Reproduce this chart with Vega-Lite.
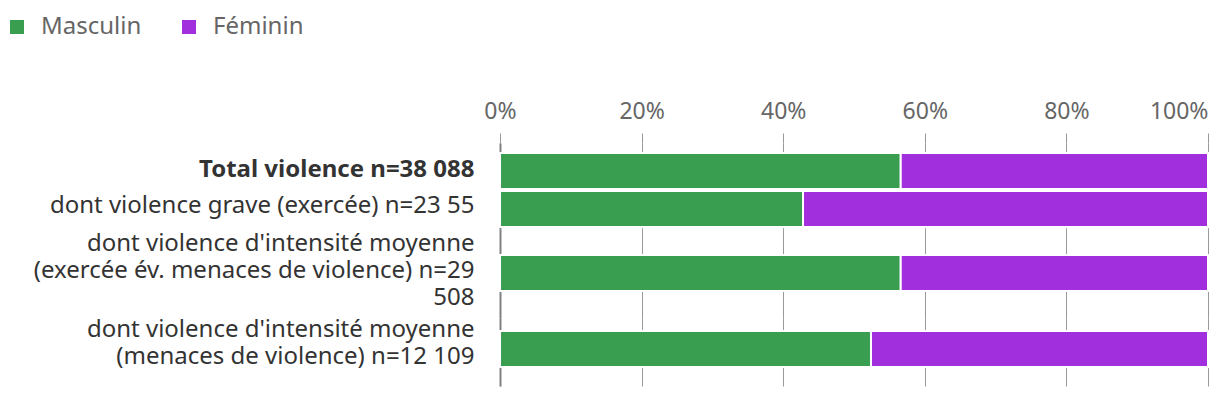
{
  "$schema": "https://vega.github.io/schema/vega-lite/v6.json",
  "autosize": {"type": "pad"},
  "padding": {"left": 5, "top": 15, "right": 12, "bottom": 12},
  "background": "white",
  "bounds": "flush",
  "spacing": 0,
  "config": {
    "view": {"stroke": null},
    "font": "Noto Sans",
    "concat": {"spacing": 0},
    "axisY": {
      "title": null,
      "ticks": false,
      "domain": true,
      "domainColor": "#808080",
      "domainWidth": 2,
      "zindex": 1,
      "labelFont": "Noto Sans",
      "labelFontSize": 24,
      "labelColor": "#333333",
      "labelPadding": 26,
      "labelLimit": 0,
      "labelLineHeight": 27,
      "labelExpr": "split(datum.label, '|')"
    },
    "axisX": {
      "title": null,
      "domain": false,
      "gridColor": "#999999",
      "tickColor": "#999999"
    },
    "bar": {"stroke": "white", "strokeWidth": 2}
  },
  "data": {
    "values": [
      {"categorie": "Total violence n=38 088", "sexe": "Masculin", "part": 56.6},
      {"categorie": "Total violence n=38 088", "sexe": "Féminin", "part": 43.4},
      {"categorie": "dont violence grave (exercée) n=23 55", "sexe": "Masculin", "part": 42.8},
      {"categorie": "dont violence grave (exercée) n=23 55", "sexe": "Féminin", "part": 57.2},
      {"categorie": "dont violence d'intensité moyenne|(exercée év. menaces de violence) n=29|508", "sexe": "Masculin", "part": 56.6},
      {"categorie": "dont violence d'intensité moyenne|(exercée év. menaces de violence) n=29|508", "sexe": "Féminin", "part": 43.4},
      {"categorie": "dont violence d'intensité moyenne|(menaces de violence) n=12 109", "sexe": "Masculin", "part": 52.4},
      {"categorie": "dont violence d'intensité moyenne|(menaces de violence) n=12 109", "sexe": "Féminin", "part": 47.6}
    ]
  },
  "transform": [
    {"calculate": "indexof(['Masculin','Féminin'], datum.sexe)", "as": "ordre"}
  ],
  "resolve": {"scale": {"y": "independent", "x": "independent"}, "axis": {"x": "independent", "y": "independent"}},
  "vconcat": [
    {
      "width": 708,
      "height": 47,
      "transform": [{"filter": "datum.categorie == 'Total violence n=38 088'"}],
      "mark": "bar",
      "encoding": {
        "y": {"field": "categorie", "type": "nominal", "scale": {"paddingInner": 0, "paddingOuter": 0.153, "align": 0.91},
          "axis": {"labelFontWeight": "bold", "labelOffset": -1}},
        "x": {"field": "part", "type": "quantitative", "stack": "zero", "scale": {"domain": [0, 100], "nice": false},
          "axis": {
            "orient": "top",
            "values": [0, 20, 40, 60, 80, 100],
            "ticks": true,
            "tickSize": 10,
            "grid": true,
            "labelExpr": "datum.value + '%'",
            "labelFont": "Noto Sans",
            "labelFontSize": 23,
            "labelColor": "#666666",
            "labelBaseline": "alphabetic",
            "labelPadding": 15,
            "labelFlush": false,
            "labelAlign": {"condition": {"test": "datum.value == 100", "value": "right"}, "value": "center"}
          }},
        "color": {"field": "sexe", "type": "nominal",
          "scale": {"domain": ["Masculin", "Féminin"], "range": ["#3a9e51", "#a22fdd"]},
          "legend": {
            "title": null, "orient": "none", "direction": "horizontal",
            "legendX": -495, "legendY": -128, "padding": 0,
            "symbolType": "square", "symbolSize": 256, "symbolStrokeWidth": 0,
            "labelFont": "Noto Sans", "labelFontSize": 24, "labelColor": "#666666",
            "labelOffset": 12, "columnPadding": 35
          }},
        "order": {"field": "ordre", "type": "quantitative"}
      }
    },
    {
      "width": 708,
      "height": 39,
      "transform": [{"filter": "datum.categorie == 'dont violence grave (exercée) n=23 55'"}],
      "mark": "bar",
      "encoding": {
        "y": {"field": "categorie", "type": "nominal", "scale": {"paddingInner": 0, "paddingOuter": 0.0417, "align": 0.333},
          "axis": {"labelOffset": -3}},
        "x": {"field": "part", "type": "quantitative", "stack": "zero", "scale": {"domain": [0, 100], "nice": false},
          "axis": {"values": [0, 20, 40, 60, 80, 100], "grid": true, "ticks": false, "labels": false}},
        "color": {"field": "sexe", "type": "nominal",
          "scale": {"domain": ["Masculin", "Féminin"], "range": ["#3a9e51", "#a22fdd"]}},
        "order": {"field": "ordre", "type": "quantitative"}
      }
    },
    {
      "width": 708,
      "height": 89,
      "transform": [{"filter": "datum.categorie == \"dont violence d'intensité moyenne|(exercée év. menaces de violence) n=29|508\""}],
      "mark": "bar",
      "encoding": {
        "y": {"field": "categorie", "type": "nominal", "scale": {"paddingInner": 0, "paddingOuter": 0.736, "align": 0.49},
          "axis": {"labelOffset": -29}},
        "x": {"field": "part", "type": "quantitative", "stack": "zero", "scale": {"domain": [0, 100], "nice": false},
          "axis": {"values": [0, 20, 40, 60, 80, 100], "grid": true, "ticks": false, "labels": false}},
        "color": {"field": "sexe", "type": "nominal",
          "scale": {"domain": ["Masculin", "Féminin"], "range": ["#3a9e51", "#a22fdd"]}},
        "order": {"field": "ordre", "type": "quantitative"}
      }
    },
    {
      "width": 708,
      "height": 68,
      "transform": [{"filter": "datum.categorie == \"dont violence d'intensité moyenne|(menaces de violence) n=12 109\""}],
      "mark": "bar",
      "encoding": {
        "y": {"field": "categorie", "type": "nominal", "scale": {"paddingInner": 0, "paddingOuter": 0.444, "align": 0.406},
          "axis": {"labelOffset": -19}},
        "x": {"field": "part", "type": "quantitative", "stack": "zero", "scale": {"domain": [0, 100], "nice": false},
          "axis": {"values": [0, 20, 40, 60, 80, 100], "grid": true, "ticks": false, "labels": false}},
        "color": {"field": "sexe", "type": "nominal",
          "scale": {"domain": ["Masculin", "Féminin"], "range": ["#3a9e51", "#a22fdd"]}},
        "order": {"field": "ordre", "type": "quantitative"}
      }
    }
  ]
}
